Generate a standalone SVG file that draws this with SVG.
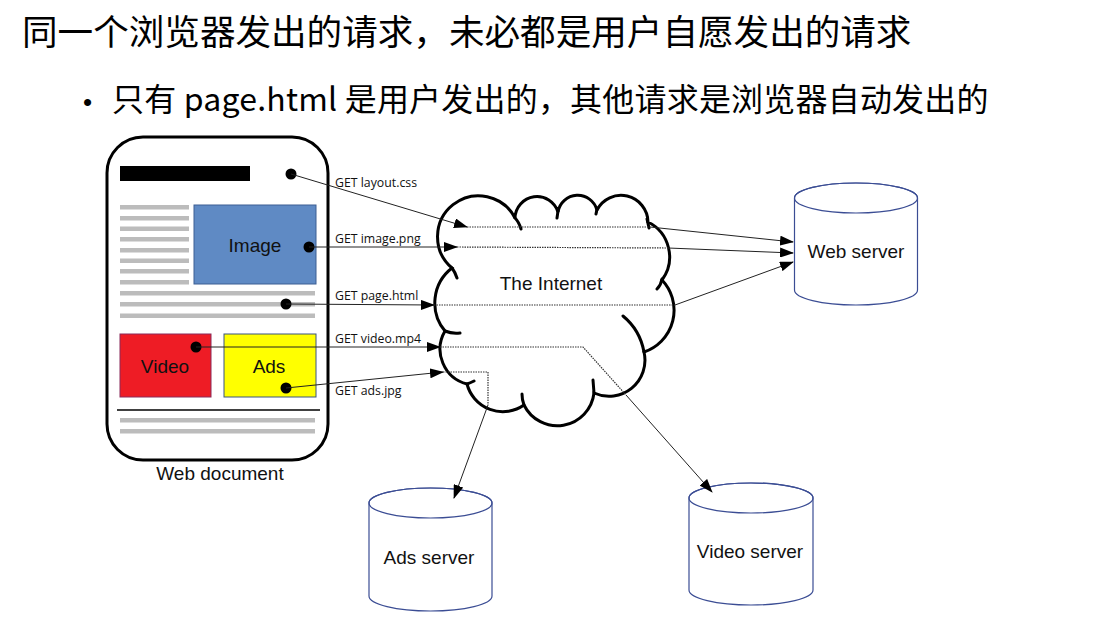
<svg xmlns="http://www.w3.org/2000/svg" width="1093" height="628" viewBox="0 0 1093 628">
<defs>
<marker id="arr" markerUnits="userSpaceOnUse" markerWidth="14" markerHeight="10" refX="13" refY="5" orient="auto">
<path d="M0,0 L14,5 L0,10 Z" fill="#000"/>
</marker>
<style>
.cjk{font-family:"Noto Sans CJK SC","Microsoft YaHei",sans-serif;fill:#000}
.lbl{font-family:"Liberation Sans",Arial,sans-serif;font-size:19px;fill:#111}
.get{font-family:"Open Sans","DejaVu Sans",sans-serif;font-size:12.3px;fill:#111}
.gray{fill:#bcbcbc}
.dot{fill:#000}
.cyl{fill:#fff;stroke:#3b4d94;stroke-width:1.2}
.solid{fill:none;stroke:#222;stroke-width:1}
.dotted{fill:none;stroke:#333;stroke-width:1.2;stroke-dasharray:1.5 1}
.cloud{fill:none;stroke:#000;stroke-width:3;stroke-linecap:round}
</style>
</defs>
<rect width="1093" height="628" fill="#fff"/>

<text class="cjk" x="22" y="45" font-size="35.6">同一个浏览器发出的请求，未必都是用户自愿发出的请求</text>
<text x="83" y="111" font-size="26" font-family="Liberation Sans, Arial, sans-serif" fill="#000">•</text>
<text class="cjk" x="112" y="111" font-size="32" letter-spacing="0.2">只有 page.html 是用户发出的，其他请求是浏览器自动发出的</text>

<g id="web-document">
<rect x="107" y="137" width="221" height="323" rx="36" ry="36" fill="#fff" stroke="#000" stroke-width="3"/>
<rect x="120" y="166" width="130" height="15" fill="#000"/>
<rect class="gray" x="120" y="205" width="69" height="4.5"/>
<rect class="gray" x="120" y="216" width="69" height="4.5"/>
<rect class="gray" x="120" y="226.5" width="69" height="4.5"/>
<rect class="gray" x="120" y="237" width="69" height="4.5"/>
<rect class="gray" x="120" y="248" width="69" height="4.5"/>
<rect class="gray" x="120" y="258.5" width="69" height="4.5"/>
<rect class="gray" x="120" y="269" width="69" height="4.5"/>
<rect class="gray" x="120" y="280" width="69" height="4.5"/>
<rect x="194" y="205" width="122" height="79" fill="#5f8ac4" stroke="#3d5f93" stroke-width="1"/>
<text class="lbl" x="255" y="252" text-anchor="middle">Image</text>
<rect class="gray" x="120" y="291" width="195" height="4.5"/>
<rect class="gray" x="120" y="302" width="195" height="4.5"/>
<rect class="gray" x="120" y="313.5" width="195" height="4.5"/>
<rect x="120" y="334" width="91" height="63" fill="#ee1c25" stroke="#8a2a5a" stroke-width="1"/>
<text class="lbl" x="165" y="373" text-anchor="middle">Video</text>
<rect x="224" y="334" width="92" height="63" fill="#ffff00" stroke="#3a5580" stroke-width="1"/>
<text class="lbl" x="269" y="373" text-anchor="middle">Ads</text>
<line x1="117" y1="410" x2="320" y2="410" stroke="#000" stroke-width="1.5"/>
<rect class="gray" x="120" y="418" width="195" height="4.5"/>
<rect class="gray" x="120" y="429" width="195" height="4.5"/>
<text class="lbl" x="220" y="480" text-anchor="middle">Web document</text>
</g>

<g id="internet">
<path class="cloud" d="M452,268 A41,41 0 1 1 515,218 A22,22 0 0 1 558,212 A20,20 0 0 1 597,210 A27,27 0 0 1 648,222 A39,39 0 0 1 662,280 A44,44 0 0 1 644,352 A36,36 0 0 1 594,393 A37,37 0 0 1 524,405 A37,37 0 0 1 467,384 A36,36 0 0 1 445,331 A44,44 0 0 1 452,268 Z"/>
<path class="cloud" d="M515,218 Q519,222 521,229 M558,211 L557,218 M597,209 L596,214 M647,219 L649,228 M662,279 Q661,285 657,289 M623,316 Q640,330 644,352 M593,380 L594,393 M522,394 Q522,400 524,405 M474,381 Q470,383 467,384 M445,331 Q452,334 460,333 M452,268 Q455,272 457,278"/>
<text class="lbl" x="551" y="290" text-anchor="middle">The Internet</text>
</g>

<g id="web-server">
<path class="cyl" d="M794.5,198 L794.5,290 A61.5,15 0 0 0 917.5,290 L917.5,198 A61.5,15 0 0 0 794.5,198 Z"/>
<ellipse cx="856" cy="198" rx="61.5" ry="15" fill="none" stroke="#3b4d94" stroke-width="1.2"/>
<text class="lbl" x="856" y="258" text-anchor="middle">Web server</text>
</g>

<g id="ads-server">
<path class="cyl" d="M369,503 L369,596 A61.5,15 0 0 0 492,596 L492,503 A61.5,15 0 0 0 369,503 Z"/>
<ellipse cx="430.5" cy="503" rx="61.5" ry="15" fill="none" stroke="#3b4d94" stroke-width="1.2"/>
<text class="lbl" x="429" y="564" text-anchor="middle">Ads server</text>
</g>

<g id="video-server">
<path class="cyl" d="M689,498 L689,590 A62,15 0 0 0 813,590 L813,498 A62,15 0 0 0 689,498 Z"/>
<ellipse cx="751" cy="498" rx="62" ry="15" fill="none" stroke="#3b4d94" stroke-width="1.2"/>
<text class="lbl" x="750" y="558" text-anchor="middle">Video server</text>
</g>

<g id="connectors">
<circle class="dot" cx="291" cy="174" r="5.5"/>
<circle class="dot" cx="309" cy="247" r="5.5"/>
<circle class="dot" cx="286" cy="304" r="5.5"/>
<circle class="dot" cx="196" cy="347" r="5.5"/>
<circle class="dot" cx="286" cy="388" r="5.5"/>

<line class="solid" x1="291" y1="174" x2="467" y2="227" marker-end="url(#arr)"/>
<line class="dotted" x1="467" y1="227" x2="650" y2="227"/>
<line class="solid" x1="650" y1="227" x2="793" y2="242" marker-end="url(#arr)"/>

<line class="solid" x1="309" y1="247" x2="457" y2="247" marker-end="url(#arr)"/>
<line class="dotted" x1="457" y1="247" x2="668" y2="248"/>
<line class="solid" x1="668" y1="248" x2="793" y2="253" marker-end="url(#arr)"/>

<line class="solid" x1="286" y1="304" x2="434" y2="305" marker-end="url(#arr)"/>
<line class="dotted" x1="434" y1="305" x2="675" y2="305"/>
<line class="solid" x1="675" y1="305" x2="793" y2="262" marker-end="url(#arr)"/>

<line class="solid" x1="196" y1="347" x2="440" y2="347" marker-end="url(#arr)"/>
<polyline class="dotted" points="440,347 583,347 626,395"/>
<line class="solid" x1="626" y1="395" x2="712" y2="492" marker-end="url(#arr)"/>

<line class="solid" x1="286" y1="388" x2="443" y2="372" marker-end="url(#arr)"/>
<polyline class="dotted" points="443,372 488,372 488,405"/>
<line class="solid" x1="488" y1="405" x2="454" y2="498" marker-end="url(#arr)"/>

<text class="get" x="335" y="187">GET layout.css</text>
<text class="get" x="335" y="243">GET image.png</text>
<text class="get" x="335" y="300">GET page.html</text>
<text class="get" x="335" y="343">GET video.mp4</text>
<text class="get" x="335" y="395">GET ads.jpg</text>
</g>
</svg>
